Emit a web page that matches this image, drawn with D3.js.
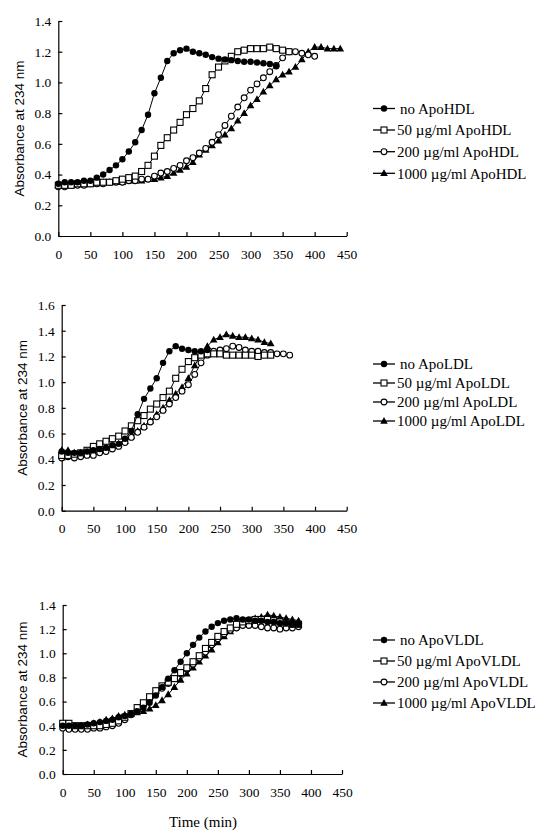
<!DOCTYPE html>
<html>
<head>
<meta charset="utf-8">
<script src="https://cdn.jsdelivr.net/npm/d3@7"></script>
<style>
  body { margin: 0; background: #fff; }
  svg { display: block; }
</style>
</head>
<body>
<div id="vis"></div>
<script>
// sampling interval of the kinetics, minutes
var stepMin = 10;

var xTicks = [0, 50, 100, 150, 200, 250, 300, 350, 400, 450];
var yTicks14 = [0, 0.2, 0.4, 0.6, 0.8, 1.0, 1.2, 1.4];
var yTicks16 = [0, 0.2, 0.4, 0.6, 0.8, 1.0, 1.2, 1.4, 1.6];

var hdlLabels = ["no ApoHDL", "50 \u00b5g/ml ApoHDL", "200 \u00b5g/ml ApoHDL", "1000 \u00b5g/ml ApoHDL"];
var ldlLabels = ["no ApoLDL", "50 \u00b5g/ml ApoLDL", "200 \u00b5g/ml ApoLDL", "1000 \u00b5g/ml ApoLDL"];
var vldlLabels = ["no ApoVLDL", "50 \u00b5g/ml ApoVLDL", "200 \u00b5g/ml ApoVLDL", "1000 \u00b5g/ml ApoVLDL"];

// ApoHDL panel
var hdlNone = [0.34,0.35,0.35,0.35,0.36,0.36,0.38,0.40,0.43,0.46,0.50,0.55,0.61,0.69,0.79,0.93,1.03,1.14,1.19,1.21,
  1.22,1.20,1.19,1.18,1.165,1.155,1.15,1.145,1.14,1.135,1.135,1.13,1.125,1.12,1.105];
var hdl50 = [0.33,0.33,0.33,0.34,0.34,0.34,0.35,0.35,0.35,0.36,0.37,0.38,0.39,0.42,0.46,0.52,0.59,0.64,0.69,0.74,
  0.79,0.83,0.88,0.96,1.05,1.10,1.14,1.17,1.20,1.21,1.22,1.22,1.22,1.23,1.22,1.21,1.20];
var hdl200 = [0.32,0.32,0.33,0.33,0.33,0.34,0.34,0.34,0.35,0.35,0.35,0.36,0.36,0.37,0.37,0.39,0.41,0.42,0.44,0.46,
  0.49,0.51,0.54,0.57,0.61,0.66,0.72,0.78,0.84,0.90,0.95,0.99,1.03,1.07,1.11,1.16,1.20,1.20,1.19,1.18,1.17];
var hdl1000 = [0.33,0.33,0.33,0.34,0.34,0.34,0.34,0.35,0.35,0.35,0.35,0.36,0.36,0.36,0.37,0.37,0.38,0.39,0.41,0.43,
  0.45,0.48,0.53,0.56,0.59,0.62,0.66,0.70,0.75,0.80,0.85,0.89,0.94,0.98,1.02,1.05,1.07,1.10,1.15,1.20,
  1.23,1.23,1.22,1.22,1.22];

// ApoLDL panel
var ldlNone = [0.46,0.45,0.45,0.45,0.46,0.47,0.48,0.49,0.51,0.52,0.56,0.62,0.75,0.87,0.95,1.03,1.15,1.24,1.28,1.26,
  1.25,1.24,1.24,1.25];
var ldl50 = [0.43,0.43,0.44,0.45,0.47,0.50,0.52,0.54,0.56,0.58,0.62,0.66,0.70,0.74,0.79,0.83,0.88,0.93,1.03,1.10,
  1.16,1.19,1.21,1.22,1.22,1.22,1.21,1.21,1.21,1.21,1.21,1.20,1.21,1.21];
var ldl200 = [0.41,0.42,0.41,0.42,0.43,0.43,0.45,0.46,0.48,0.50,0.53,0.57,0.61,0.65,0.69,0.73,0.78,0.83,0.88,0.93,
  0.98,1.06,1.15,1.21,1.24,1.25,1.26,1.28,1.27,1.25,1.24,1.24,1.23,1.23,1.22,1.22,1.21];
var ldl1000 = [0.47,0.47,0.45,0.45,0.46,0.47,0.48,0.49,0.50,0.52,0.54,0.58,0.62,0.66,0.70,0.75,0.80,0.86,0.91,0.96,
  1.03,1.13,1.21,1.28,1.33,1.35,1.37,1.36,1.35,1.35,1.34,1.33,1.31,1.30];

// ApoVLDL panel
var vldlNone = [0.40,0.40,0.40,0.40,0.41,0.42,0.43,0.44,0.45,0.47,0.48,0.50,0.52,0.55,0.59,0.65,0.72,0.79,0.86,0.93,
  1.00,1.07,1.13,1.18,1.22,1.25,1.27,1.28,1.29,1.28,1.28,1.27,1.27,1.26,1.26,1.25,1.25,1.24,1.24];
var vldl50 = [0.42,0.42,0.40,0.40,0.40,0.40,0.40,0.41,0.42,0.44,0.47,0.50,0.55,0.59,0.64,0.69,0.73,0.76,0.79,0.84,
  0.88,0.93,0.98,1.04,1.09,1.14,1.18,1.21,1.24,1.26,1.27,1.28,1.28,1.28,1.27,1.26,1.25,1.24,1.24];
var vldl200 = [0.38,0.37,0.37,0.37,0.37,0.38,0.38,0.39,0.40,0.42,0.45,0.49,0.53,0.57,0.62,0.67,0.71,0.75,0.79,0.83,
  0.87,0.91,0.96,1.01,1.07,1.12,1.16,1.19,1.21,1.23,1.23,1.23,1.22,1.21,1.21,1.20,1.21,1.21,1.22];
var vldl1000 = [0.41,0.40,0.39,0.40,0.41,0.42,0.43,0.45,0.46,0.48,0.49,0.50,0.51,0.52,0.54,0.57,0.61,0.66,0.72,0.78,
  0.83,0.88,0.93,0.98,1.03,1.09,1.14,1.18,1.22,1.25,1.27,1.29,1.30,1.32,1.31,1.30,1.29,1.28,1.27];

var markers = ["filledCircle", "openSquare", "openCircle", "filledTriangle"];

var panels = [
  { series: [hdlNone, hdl50, hdl200, hdl1000], labels: hdlLabels, yTicks: yTicks14, yMax: 1.4,
    left: 58.3, right: 346.7, top: 21, bottom: 236, titleX: 19, legendY: [108.5, 130, 151.7, 173.3] },
  { series: [ldlNone, ldl50, ldl200, ldl1000], labels: ldlLabels, yTicks: yTicks16, yMax: 1.6,
    left: 61.7, right: 346.7, top: 305, bottom: 510.7, titleX: 22, legendY: [364, 383, 402, 421] },
  { series: [vldlNone, vldl50, vldl200, vldl1000], labels: vldlLabels, yTicks: yTicks14, yMax: 1.4,
    left: 62.7, right: 342, top: 605, bottom: 774, titleX: 22, legendY: [640, 661, 682, 703] }
];

var svg = d3.select("#vis").append("svg")
  .attr("width", 549)
  .attr("height", 833);

function drawMarker(g, type, cx, cy) {
  if (type == "filledCircle") {
    g.append("circle").attr("cx", cx).attr("cy", cy).attr("r", 3.2).attr("fill", "#000");
  } else if (type == "openCircle") {
    g.append("circle").attr("cx", cx).attr("cy", cy).attr("r", 2.9)
      .attr("fill", "#fff").attr("stroke", "#000").attr("stroke-width", 1.1);
  } else if (type == "openSquare") {
    g.append("rect").attr("x", cx - 3).attr("y", cy - 3).attr("width", 6).attr("height", 6)
      .attr("fill", "#fff").attr("stroke", "#000").attr("stroke-width", 1.1);
  } else {
    g.append("path")
      .attr("d", "M" + cx + "," + (cy - 4) + "L" + (cx + 3.8) + "," + (cy + 2.8) + "L" + (cx - 3.8) + "," + (cy + 2.8) + "Z")
      .attr("fill", "#000");
  }
}

panels.forEach(function(p) {
  var x = d3.scaleLinear().domain([0, 450]).range([p.left, p.right]);
  var y = d3.scaleLinear().domain([0, p.yMax]).range([p.bottom, p.top]);

  // axes, ticks pointing into the plot
  var yAxis = svg.append("g")
    .attr("transform", "translate(" + p.left + ",0)")
    .call(d3.axisLeft(y).tickValues(p.yTicks).tickFormat(d3.format(".1f"))
      .tickSizeInner(-4).tickSizeOuter(0).tickPadding(7));
  var xAxis = svg.append("g")
    .attr("transform", "translate(0," + p.bottom + ")")
    .call(d3.axisBottom(x).tickValues(xTicks).tickFormat(d3.format("d"))
      .tickSizeInner(-4).tickSizeOuter(0).tickPadding(13));
  [xAxis, yAxis].forEach(function(a) {
    a.selectAll("path, line").attr("stroke", "#000").attr("stroke-width", 1.2);
    a.selectAll("text").attr("fill", "#000")
      .style("font-family", "'Liberation Serif', 'Times New Roman', serif")
      .style("font-size", "13.5px");
  });

  svg.append("text")
    .attr("transform", "translate(" + p.titleX + "," + ((p.top + p.bottom) / 2) + ")rotate(-90)")
    .attr("text-anchor", "middle")
    .attr("dy", "0.35em")
    .style("font-family", "'Liberation Sans', Arial, sans-serif")
    .style("font-size", "13.5px")
    .text("Absorbance at 234 nm");

  var line = d3.line()
    .x(function(d, i) { return x(i * stepMin); })
    .y(function(d) { return y(d); });

  // draw from the last series to the first so the no-protein curve sits on top
  for (var s = p.series.length - 1; s >= 0; s--) {
    var vals = p.series[s];
    var g = svg.append("g");
    g.append("path").datum(vals)
      .attr("d", line)
      .attr("fill", "none")
      .attr("stroke", "#000")
      .attr("stroke-width", 1);
    vals.forEach(function(v, i) {
      drawMarker(g, markers[s], x(i * stepMin), y(v));
    });
  }

  // legend
  p.labels.forEach(function(lab, i) {
    var ly = p.legendY[i];
    var lg = svg.append("g");
    lg.append("line")
      .attr("x1", 373).attr("x2", 395).attr("y1", ly).attr("y2", ly)
      .attr("stroke", "#000").attr("stroke-width", 1.3);
    drawMarker(lg, markers[i], 384, ly);
    lg.append("text")
      .attr("x", i == 0 ? 400 : 397)
      .attr("y", ly)
      .attr("dy", "0.35em")
      .style("font-family", "'Liberation Serif', 'Times New Roman', serif")
      .style("font-size", "15px")
      .text(lab);
  });
});

svg.append("text")
  .attr("x", 203)
  .attr("y", 827)
  .attr("text-anchor", "middle")
  .style("font-family", "'Liberation Serif', 'Times New Roman', serif")
  .style("font-size", "15px")
  .text("Time (min)");
</script>
</body>
</html>
